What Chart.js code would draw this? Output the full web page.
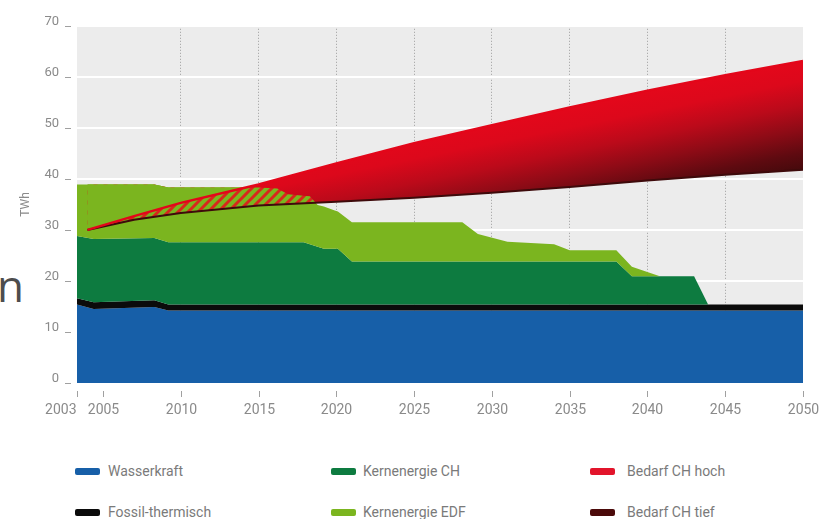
<!DOCTYPE html>
<html lang="de">
<head>
<meta charset="utf-8">
<title>Stromangebot und Bedarf Schweiz bis 2050</title>
<script src="https://cdn.jsdelivr.net/npm/chart.js@4.4.1/dist/chart.umd.min.js"></script>
<style>
  html, body { margin: 0; padding: 0; background: #fff; }
  body { width: 821px; height: 519px; position: relative; overflow: hidden; font-family: Roboto, "Open Sans", sans-serif; }
  #wrap { position: absolute; left: 0; top: 0; width: 821px; height: 430px; }
  .leg { position: absolute; height: 16px; font-size: 14px; line-height: 16px; color: #7a7a7a; white-space: nowrap; }
  .leg i { position: absolute; left: 0; top: 5px; width: 25px; height: 7px; border-radius: 2px; }
  .leg span { position: absolute; top: 0; }
  #rest { position: absolute; left: -3px; top: 260px; font-size: 44px; line-height: 50px; color: #4d4d4d; font-family: "Open Sans", sans-serif; }
</style>
</head>
<body>
<div id="rest">n</div>
<div id="wrap"><canvas id="graf" width="821" height="430"></canvas></div>
<div id="legende"></div>
<script>
// Angebot: Stützjahre und Beiträge der einzelnen Quellen (TWh)
const jahre      = [2003.33, 2004.4, 2008.3, 2009.2, 2015, 2016.2, 2016.9, 2017.9, 2018.3, 2018.8, 2019.2, 2019.9, 2020.1, 2021, 2028.1, 2029.1, 2031, 2034, 2035, 2038, 2039, 2040.8, 2043, 2043.9, 2050];
const wasserkraft = [15.4, 14.5, 14.9, 14.2, 14.2, 14.2, 14.2, 14.2, 14.2, 14.2, 14.2, 14.2, 14.2, 14.2, 14.2, 14.2, 14.2, 14.2, 14.2, 14.2, 14.2, 14.2, 14.2, 14.2, 14.2];
const fossil      = [1.2, 1.3, 1.3, 1.2, 1.2, 1.2, 1.2, 1.2, 1.2, 1.2, 1.2, 1.2, 1.2, 1.2, 1.2, 1.2, 1.2, 1.2, 1.2, 1.2, 1.2, 1.2, 1.2, 1.2, 1.2];
const kernCH      = [12.2, 12.4, 12.2, 12.2, 12.2, 12.2, 12.2, 12.2, 11.8, 11.3, 10.9, 10.9, 10.9, 8.4, 8.4, 8.4, 8.4, 8.4, 8.4, 8.4, 5.5, 5.5, 5.5, 0, 0];
const kernEDF     = [10.1, 10.7, 10.5, 10.7, 10.7, 10.5, 9.4, 9.1, 9.4, 8.2, 8.3, 7.5, 7.3, 7.7, 7.7, 5.4, 3.9, 3.4, 2.2, 2.2, 1.9, 0, 0, 0, 0];

// Nachfrage: Szenarien hoch / tief (TWh)
const bedarfJahre = [2004, 2007, 2010, 2015, 2020, 2025, 2030, 2035, 2040, 2045, 2050];
const bedarfHoch  = [30.0, 32.7, 35.3, 38.9, 43.0, 47.0, 50.5, 54.0, 57.3, 60.3, 63.1];
const bedarfTief  = [30.0, 32.0, 33.3, 34.8, 35.5, 36.3, 37.3, 38.4, 39.7, 40.8, 41.8];

// Achsen
const xTicks = [2003.33, 2005, 2010, 2015, 2020, 2025, 2030, 2035, 2040, 2045, 2050];
const yTicks = [0, 10, 20, 30, 40, 50, 60, 70];

// Farben
const blau = '#175fa8';
const schwarz = '#0b0b0b';
const gruen = '#0d7b40';
const hellgruen = '#7bb51f';
const rot = '#e3061a';
const dunkelrot = '#3e0a0b';
const grau = '#8a8a8a';

// Legende
const legNamen  = ['Wasserkraft', 'Fossil-thermisch', 'Kernenergie CH', 'Kernenergie EDF', 'Bedarf CH hoch', 'Bedarf CH tief'];
const legFarben = [blau, schwarz, gruen, hellgruen, '#e2142b', '#4b0a0a'];

// kumulierte Obergrenzen der Angebotsflächen
function summe(...reihen) {
  return jahre.map((j, i) => ({ x: j, y: reihen.reduce((s, r) => s + r[i], 0) }));
}
const obenBlau = summe(wasserkraft);
const obenFossil = summe(wasserkraft, fossil);
const obenCH = summe(wasserkraft, fossil, kernCH);
const obenEDF = summe(wasserkraft, fossil, kernCH, kernEDF);
const hoch = bedarfJahre.map((j, i) => ({ x: j, y: bedarfHoch[i] }));
const tief = bedarfJahre.map((j, i) => ({ x: j, y: bedarfTief[i] }));

// Schraffur für den Bereich, in dem Nachfrage und Angebot überlappen
function schraffur() {
  const c = document.createElement('canvas');
  c.width = 10; c.height = 10;
  const g = c.getContext('2d');
  g.fillStyle = hellgruen;
  g.fillRect(0, 0, 10, 10);
  g.strokeStyle = '#d8261c';
  g.lineWidth = 3;
  g.beginPath();
  g.moveTo(-2, 12); g.lineTo(12, -2);
  g.moveTo(-7, 7); g.lineTo(7, -7);
  g.moveTo(3, 17); g.lineTo(17, 3);
  g.stroke();
  return g.createPattern(c, 'repeat');
}

// Verlauf rot -> dunkelrot im Nachfrageband
function bandVerlauf(context) {
  const chart = context.chart;
  const { ctx, chartArea, scales } = chart;
  if (!chartArea) return rot;
  const g = ctx.createLinearGradient(
    scales.x.getPixelForValue(2050), scales.y.getPixelForValue(64),
    scales.x.getPixelForValue(2051.5), scales.y.getPixelForValue(41.3));
  g.addColorStop(0, '#e5071b');
  g.addColorStop(0.2, '#dc081b');
  g.addColorStop(0.4, '#bb0a1a');
  g.addColorStop(0.6, '#8e0b16');
  g.addColorStop(0.8, '#5e0a10');
  g.addColorStop(1, '#3a090a');
  return g;
}

const flaeche = { pointRadius: 0, borderWidth: 0, tension: 0 };

// Hintergrund der Zeichenfläche
const hintergrund = {
  id: 'hintergrund',
  beforeDraw(chart) {
    const { ctx, chartArea: a } = chart;
    ctx.save();
    ctx.fillStyle = '#ececec';
    ctx.fillRect(a.left, a.top, a.right - a.left, a.bottom - a.top);
    ctx.restore();
  }
};

// Striche und Jahreszahlen unter der Achse, Striche an der y-Achse
const achsen = {
  id: 'achsen',
  afterDraw(chart) {
    const { ctx, chartArea: a, scales } = chart;
    ctx.save();
    ctx.strokeStyle = '#a0a0a0';
    ctx.lineWidth = 1;
    ctx.fillStyle = grau;
    ctx.font = '14px Roboto, sans-serif';
    ctx.textBaseline = 'middle';
    scales.x.ticks.forEach((t, i) => {
      const px = Math.round(scales.x.getPixelForValue(t.value)) + 0.5;
      ctx.beginPath();
      ctx.moveTo(px, a.bottom + 8);
      ctx.lineTo(px, a.bottom + 14);
      ctx.stroke();
      ctx.textAlign = i === 0 ? 'right' : 'center';
      ctx.fillText(String(Math.round(t.value)), i === 0 ? px - 1 : px, a.bottom + 27);
    });
    scales.y.ticks.forEach(t => {
      const py = Math.round(scales.y.getPixelForValue(t.value)) + 0.5;
      ctx.beginPath();
      ctx.moveTo(a.left - 12, py);
      ctx.lineTo(a.left - 6, py);
      ctx.stroke();
    });
    ctx.restore();
  }
};

new Chart(document.getElementById('graf'), {
  type: 'line',
  data: {
    datasets: [
      // 0: Angebot oberhalb der hohen Nachfrage wieder grün
      { ...flaeche, label: 'Angebot über Bedarf', data: obenEDF, backgroundColor: 'transparent',
        fill: { target: 2, above: hellgruen, below: 'transparent' } },
      // 1: schraffierte Überlappung
      { ...flaeche, label: 'Überlappung', data: obenEDF, backgroundColor: 'transparent',
        fill: { target: 3, above: schraffur(), below: 'transparent' } },
      // 2: Bedarf hoch, Band bis Bedarf tief
      { label: 'Bedarf CH hoch', data: hoch, pointRadius: 0, tension: 0, borderColor: rot, borderWidth: 2.5,
        backgroundColor: bandVerlauf, fill: 3 },
      // 3: Bedarf tief
      { label: 'Bedarf CH tief', data: tief, pointRadius: 0, tension: 0, borderColor: dunkelrot, borderWidth: 2, fill: false },
      // 4-7: Angebot
      { ...flaeche, label: 'Kernenergie EDF', data: obenEDF, backgroundColor: hellgruen, fill: 5 },
      { ...flaeche, label: 'Kernenergie CH', data: obenCH, backgroundColor: gruen, fill: 6 },
      { ...flaeche, label: 'Fossil-thermisch', data: obenFossil, backgroundColor: schwarz, fill: 7 },
      { ...flaeche, label: 'Wasserkraft', data: obenBlau, backgroundColor: blau, fill: 'origin' }
    ]
  },
  options: {
    responsive: false,
    animation: false,
    devicePixelRatio: 1,
    layout: { padding: { left: 0, right: 18, top: 21, bottom: 0 } },
    plugins: {
      legend: { display: false },
      tooltip: { enabled: false },
      filler: { drawTime: 'beforeDatasetsDraw' }
    },
    scales: {
      x: {
        type: 'linear',
        min: 2003.33,
        max: 2050,
        afterBuildTicks: s => { s.ticks = xTicks.map(v => ({ value: v })); },
        afterFit: s => { s.height = 47; },
        ticks: { display: false },
        grid: {
          color: c => (c.tick && c.tick.value >= 2010 && c.tick.value <= 2045) ? '#9d9d9d' : 'transparent',
          lineWidth: 1,
          drawTicks: false
        },
        border: { display: false, dash: [1, 2] }
      },
      y: {
        min: 0,
        max: 70,
        afterBuildTicks: s => { s.ticks = yTicks.map(v => ({ value: v })); },
        afterFit: s => { s.width = 77; },
        ticks: { color: grau, font: { family: 'Roboto', size: 13 }, padding: 18, labelOffset: -4 },
        grid: { color: '#ffffff', lineWidth: 2, drawTicks: false },
        border: { display: false },
        title: { display: true, text: 'TWh', color: grau, font: { family: 'Roboto', size: 12 }, padding: { top: 19, bottom: 0 } }
      }
    }
  },
  plugins: [hintergrund, achsen]
});

// Legende in drei Spalten
const spalten = [75, 331, 590];
const textAbstand = [33, 32, 37];
const zeilen = [463, 504];
const legende = document.getElementById('legende');
legNamen.forEach((name, i) => {
  const s = Math.floor(i / 2), z = i % 2;
  const el = document.createElement('div');
  el.className = 'leg';
  el.style.left = spalten[s] + 'px';
  el.style.top = zeilen[z] + 'px';
  el.innerHTML = '<i style="background:' + legFarben[i] + '"></i><span style="left:' + textAbstand[s] + 'px">' + name + '</span>';
  legende.appendChild(el);
});
</script>
</body>
</html>
